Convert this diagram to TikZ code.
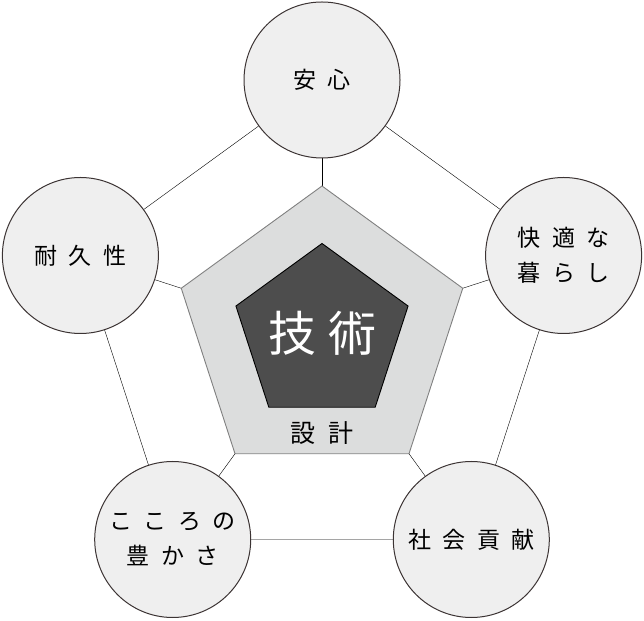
\documentclass[tikz,border=0pt]{standalone}
\usepackage{fontspec}
\newfontfamily\jp{Noto Sans CJK JP}
\usepackage{tikz}
\usetikzlibrary{shapes.geometric,backgrounds}
\definecolor{washi}{RGB}{239,239,239}
\definecolor{waku}{RGB}{60,52,52}
\definecolor{usuzumi}{RGB}{220,221,221}
\definecolor{sumi}{RGB}{77,77,77}
\newcommand\ma{\hspace{0.5em}}

\begin{document}
\begin{tikzpicture}[x=1pt,y=1pt,line width=0.9pt]
\tikzstyle{value}=[circle,draw=waku,line width=1pt,fill=washi,minimum size=156,inner sep=0,align=center,font={\jp\fontsize{23}{35}\selectfont}]
\tikzstyle{penta}=[regular polygon,regular polygon sides=5,inner sep=0]
\useasboundingbox (0,0) rectangle (644,620);
\coordinate(c)at(322,286);
\node(sekkei)at(c)[penta,minimum size=296,draw=gray,fill=usuzumi]{};
\node(gijutsu)at(c)[penta,minimum size=181,draw=black,fill=sumi]{};
\node(gijutsu-t)at(322,287)[text=white,font={\jp\fontsize{48}{50}\selectfont}]{技\hspace{0.25em}術};
\node(sekkei-t)at(322,187)[font={\jp\fontsize{25}{30}\selectfont}]{設\ma 計};
\node(anshin)at(322,540)[value]{安\ma 心};
\node(taikyu)at(80.4,364.5)[value]{耐\ma 久\ma 性};
\node(kaiteki)at(563.6,364.5)[value]{快\ma 適\ma な\\暮\ma ら\ma し};
\node(kokoro)at(172.7,80.5)[value]{こ\ma こ\ma ろ\ma の\\豊\ma か\ma さ};
\node(shakai)at(471.3,80.5)[value]{社\ma 会\ma 貢\ma 献};
\begin{scope}[on background layer]
\draw(anshin)--(kaiteki)--(shakai)--(kokoro)--(taikyu)--(anshin);
\foreach \v in {anshin,taikyu,kaiteki,kokoro,shakai}
  \draw(c)--(\v);
\end{scope}
\end{tikzpicture}
\end{document}
